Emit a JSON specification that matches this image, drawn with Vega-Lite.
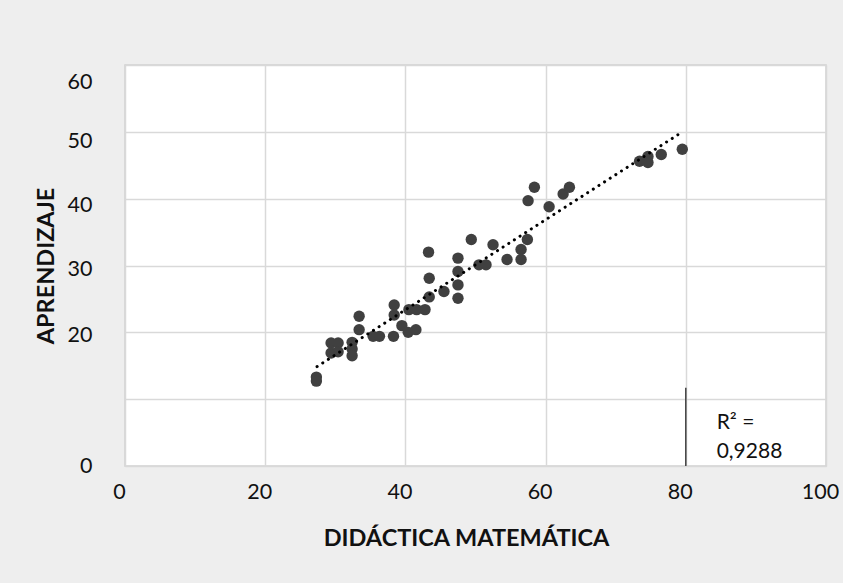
{
  "$schema": "https://vega.github.io/schema/vega-lite/v6.json",
  "width": 701,
  "height": 401,
  "autosize": "none",
  "padding": {"left": 125, "top": 65, "right": 17, "bottom": 117},
  "background": "#eeeeee",
  "config": {
    "font": "Lato",
    "view": {"fill": "white", "stroke": "#d0d0d0", "strokeWidth": 1.5},
    "axis": {
      "gridColor": "#d9d9d9",
      "gridWidth": 1.5,
      "domain": false,
      "ticks": false,
      "labelFont": "Lato",
      "labelFontSize": 21.5,
      "labelColor": "#111111",
      "titleFont": "Lato",
      "titleFontSize": 23.5,
      "titleFontWeight": "bold",
      "titleColor": "#111111"
    }
  },
  "datasets": {
    "pts": [
      {"x": 27.3, "y": 13.3}, {"x": 27.3, "y": 12.7}, {"x": 29.4, "y": 18.4}, {"x": 30.4, "y": 18.4},
      {"x": 29.4, "y": 16.9}, {"x": 30.4, "y": 17.1}, {"x": 32.4, "y": 18.5}, {"x": 32.4, "y": 17.5},
      {"x": 32.4, "y": 16.5}, {"x": 33.4, "y": 22.4}, {"x": 33.4, "y": 20.4}, {"x": 35.4, "y": 19.4},
      {"x": 36.3, "y": 19.4}, {"x": 38.3, "y": 19.4}, {"x": 38.4, "y": 24.1}, {"x": 38.4, "y": 22.6},
      {"x": 39.5, "y": 21.0}, {"x": 40.4, "y": 20.0}, {"x": 41.5, "y": 20.4}, {"x": 40.5, "y": 23.4},
      {"x": 41.6, "y": 23.4}, {"x": 42.8, "y": 23.4}, {"x": 43.4, "y": 25.3}, {"x": 45.5, "y": 26.1},
      {"x": 43.4, "y": 28.1}, {"x": 43.3, "y": 32.0}, {"x": 47.5, "y": 25.1}, {"x": 47.5, "y": 27.1},
      {"x": 47.5, "y": 29.1}, {"x": 47.5, "y": 31.1}, {"x": 49.4, "y": 33.9}, {"x": 50.5, "y": 30.1},
      {"x": 51.5, "y": 30.1}, {"x": 52.5, "y": 33.1}, {"x": 54.5, "y": 30.9}, {"x": 56.5, "y": 30.9},
      {"x": 56.5, "y": 32.4}, {"x": 57.4, "y": 33.9}, {"x": 57.5, "y": 39.7}, {"x": 58.4, "y": 41.7},
      {"x": 60.5, "y": 38.8}, {"x": 62.5, "y": 40.7}, {"x": 63.4, "y": 41.7}, {"x": 73.4, "y": 45.6},
      {"x": 74.6, "y": 46.3}, {"x": 74.6, "y": 45.4}, {"x": 76.5, "y": 46.6}, {"x": 79.5, "y": 47.4}
    ],
    "note": [{"x": 84.4, "y": 6.5, "label": "R² =\n0,9288"}],
    "bar": [{"x": 80, "y": 0, "y2": 11.7}]
  },
  "layer": [
    {
      "data": {"name": "pts"},
      "mark": {"type": "point", "filled": true, "shape": "circle", "size": 130, "color": "#404040", "opacity": 1},
      "encoding": {
        "x": {
          "field": "x", "type": "quantitative",
          "scale": {"domain": [0, 100], "nice": false},
          "axis": {"values": [0, 20, 40, 60, 80, 100], "title": "DIDÁCTICA MATEMÁTICA", "labelFlush": false, "labelPadding": 15, "labelOffset": -6, "titlePadding": 24, "titleX": 341}
        },
        "y": {
          "field": "y", "type": "quantitative",
          "scale": {"domain": [0, 60], "nice": false},
          "axis": {
            "values": [0, 10, 20, 30, 40, 50, 60],
            "labelExpr": "datum.value == 10 ? '' : datum.label",
            "labelOffset": {"expr": "datum.value == 60 ? 17 : datum.value == 50 ? 10 : datum.value == 40 ? 7 : datum.value == 30 ? 4 : datum.value == 20 ? 3 : 0"},
            "labelFlush": false,
            "title": "APRENDIZAJE", "labelPadding": 33, "titlePadding": 9
          }
        }
      }
    },
    {
      "data": {"name": "pts"},
      "transform": [{"regression": "y", "on": "x", "extent": [27.4, 79.5]}],
      "mark": {"type": "line", "color": "black", "strokeWidth": 3, "strokeCap": "round", "strokeDash": [0.1, 6.6]},
      "encoding": {
        "x": {"field": "x", "type": "quantitative"},
        "y": {"field": "y", "type": "quantitative"}
      }
    },
    {
      "data": {"name": "bar"},
      "mark": {"type": "rule", "color": "#404040", "strokeWidth": 1.5},
      "encoding": {
        "x": {"field": "x", "type": "quantitative"},
        "y": {"field": "y", "type": "quantitative"},
        "y2": {"field": "y2"}
      }
    },
    {
      "data": {"name": "note"},
      "mark": {"type": "text", "align": "left", "baseline": "middle", "lineBreak": "\n", "lineHeight": 29, "fontSize": 21, "font": "Lato", "color": "#111111"},
      "encoding": {
        "x": {"field": "x", "type": "quantitative"},
        "y": {"field": "y", "type": "quantitative"},
        "text": {"field": "label"}
      }
    }
  ]
}
